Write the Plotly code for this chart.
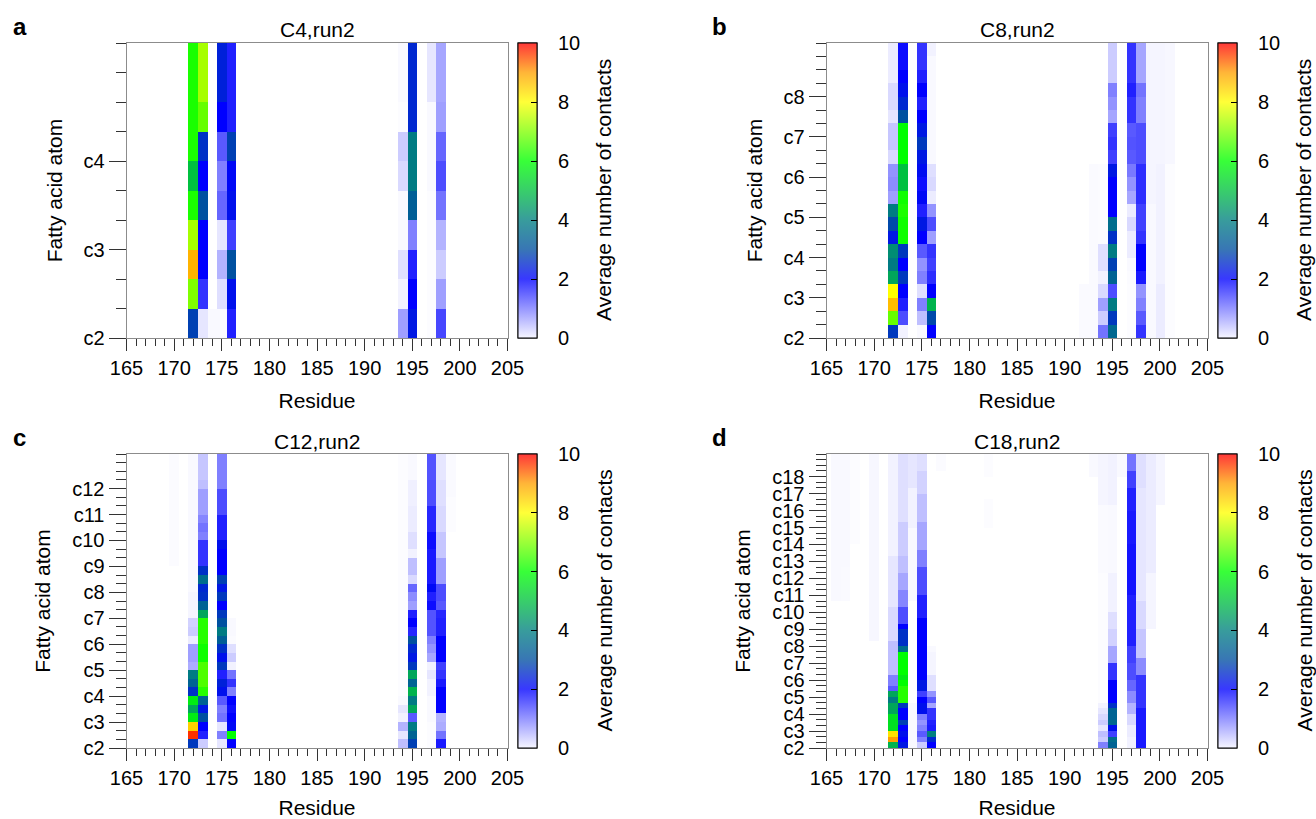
import plotly.graph_objects as go

W, H = 1316, 819
FONT = "Liberation Sans, Arial, Helvetica, sans-serif"

residues = list(range(165, 206))
residue_ticks = [165, 170, 175, 180, 185, 190, 195, 200, 205]
cbar_ticks = [0, 2, 4, 6, 8, 10]
cbar_dash_ticks = [2, 4, 6, 8]

# ---------------- panel a : C4 (10 atom rows, values listed top -> bottom) ----
c4_rows = 10
c4_labels = ["c2", "c3", "c4"]
c4_label_rows = [0, 3, 6]
c4_172 = [6.2, 6.2, 6.2, 6.2, 5.0, 6.2, 7.3, 8.8, 7.0, 2.8]
c4_173 = [7.3, 7.3, 6.8, 2.6, 2.0, 3.0, 2.0, 2.0, 1.6, 0.2]
c4_174 = [0, 0, 0, 0, 0, 0, 0, 0, 0, 0.05]
c4_175 = [2.4, 2.4, 2.0, 1.3, 1.0, 1.2, 0.2, 0.6, 0.25, 0.05]
c4_176 = [1.75, 1.75, 1.75, 2.8, 2.1, 2.2, 1.5, 3.0, 2.2, 1.75]
c4_194 = [0.05, 0.05, 0.02, 0.4, 0.3, 0.05, 0.05, 0.25, 0.1, 0.75]
c4_195 = [2.5, 2.5, 2.5, 3.9, 3.9, 3.3, 1.0, 1.75, 2.0, 2.3]
c4_197 = [0.2, 0.2, 0.05, 0.05, 0.05, 0.02, 0.02, 0.02, 0.02, 0.02]
c4_198 = [0.7, 0.7, 0.75, 1.2, 1.4, 1.1, 0.6, 0.4, 0.75, 1.45]

# ---------------- panel b : C8 (22 atom rows) ----------------------------------
c8_rows = 22
c8_labels = ["c2", "c3", "c4", "c5", "c6", "c7", "c8"]
c8_label_rows = [0, 3, 6, 9, 12, 15, 18]
c8_172 = [0.15, 0.15, 0.15, 0.3, 0.3, 0.2, 0.45, 0.45, 0.3, 0.85, 0.9, 0.75,
          3.9, 2.9, 2.3, 4.2, 3.9, 4.6, 8.0, 8.7, 6.8, 2.7]
c8_173 = [1.9, 1.9, 2.0, 2.2, 2.5, 3.0, 6.0, 6.0, 6.0, 5.0, 5.0, 6.1,
          6.2, 6.1, 6.1, 2.7, 2.0, 2.7, 2.0, 1.75, 1.4, 0.1]
c8_175 = [1.6, 1.6, 1.75, 2.0, 1.75, 2.0, 2.3, 2.7, 2.3, 2.15, 1.9, 2.1,
          1.75, 2.3, 2.0, 1.3, 0.85, 1.0, 0.25, 1.0, 0.5, 0.05]
c8_176 = [0.1, 0.05, 0.05, 0.05, 0.05, 0.05, 0.05, 0.05, 0.05, 0.25, 0.3, 0.15,
          0.85, 1.4, 0.75, 1.6, 1.5, 1.65, 2.0, 4.8, 2.9, 2.0]
c8_192 = [0, 0, 0, 0, 0, 0, 0, 0, 0, 0, 0, 0,
          0, 0, 0, 0, 0, 0, 0.04, 0.04, 0.04, 0.04]
c8_193 = [0, 0, 0, 0, 0, 0, 0, 0, 0, 0.04, 0.04, 0.04,
          0.04, 0.04, 0.04, 0.04, 0.04, 0.04, 0.04, 0.04, 0.04, 0.04]
c8_194 = [0, 0, 0, 0, 0, 0, 0, 0, 0, 0.03, 0.03, 0.03,
          0.03, 0.03, 0.03, 0.25, 0.25, 0.1, 0.3, 0.75, 0.4, 1.1]
c8_195 = [0.4, 0.4, 0.4, 1.0, 0.85, 0.7, 1.5, 1.6, 1.5, 2.3, 2.0, 2.0,
          2.0, 3.6, 2.6, 3.9, 2.8, 3.4, 1.4, 3.9, 2.7, 3.5]
c8_197 = [1.6, 1.6, 1.6, 1.75, 1.6, 1.6, 1.3, 1.35, 1.3, 1.05, 0.85, 0.7,
          0.15, 0.3, 0.15, 0.15, 0.05, 0.03, 0.02, 0.02, 0.02, 0.02]
c8_198 = [0.7, 0.7, 0.7, 1.1, 1.0, 1.0, 1.4, 1.4, 1.4, 1.65, 1.65, 1.65,
          1.5, 1.5, 1.6, 2.0, 2.0, 1.8, 0.85, 1.0, 1.3, 1.6]
c8_199 = [0.08, 0.08, 0.08, 0.08, 0.08, 0.08, 0.08, 0.08, 0.08, 0.08, 0.08, 0.08,
          0.05, 0.05, 0.05, 0.05, 0.05, 0.05, 0.05, 0.05, 0.05, 0.05]
c8_200 = [0.08, 0.08, 0.08, 0.08, 0.08, 0.08, 0.08, 0.08, 0.08, 0.1, 0.1, 0.1,
          0.1, 0.1, 0.1, 0.1, 0.1, 0.1, 0.15, 0.15, 0.15, 0.15]
c8_201 = [0.06, 0.06, 0.06, 0.06, 0.06, 0.06, 0.06, 0.06, 0.06, 0.02, 0.02, 0.02,
          0.02, 0.02, 0.02, 0.02, 0.02, 0.02, 0.02, 0.02, 0.02, 0.02]

# ---------------- panel c : C12 (34 atom rows) ---------------------------------
c12_rows = 34
c12_labels = ["c2", "c3", "c4", "c5", "c6", "c7", "c8", "c9", "c10", "c11", "c12"]
c12_label_rows = [0, 3, 6, 9, 12, 15, 18, 21, 24, 27, 30]
c12_170 = [0.03, 0.03, 0.03, 0.03, 0.03, 0.03, 0.03, 0.03, 0.03, 0.03,
           0.03, 0.03, 0.03, 0, 0, 0, 0, 0, 0, 0,
           0, 0, 0, 0, 0, 0, 0, 0, 0, 0,
           0, 0, 0, 0]
c12_172 = [0.05, 0.05, 0.05, 0.05, 0.05, 0.05, 0.05, 0.05, 0.05, 0.05,
           0.05, 0.05, 0.05, 0.05, 0.05, 0.05, 0.08, 0.08, 0.08, 0.35,
           0.4, 0.15, 0.75, 0.75, 0.65, 3.9, 3.4, 2.6, 5.7, 4.6,
           5.7, 8.5, 9.7, 2.7]
c12_173 = [0.45, 0.45, 0.45, 0.5, 0.75, 0.75, 0.75, 0.95, 1.1, 1.0,
           1.6, 1.6, 1.6, 2.6, 3.6, 2.5, 2.6, 3.4, 4.6, 6.3,
           6.3, 6.3, 6.1, 6.1, 6.6, 6.6, 6.6, 6.3, 3.4, 2.3,
           3.0, 2.0, 1.75, 0.4]
c12_175 = [1.0, 1.0, 1.0, 1.0, 1.4, 1.4, 1.4, 1.75, 1.75, 1.75,
           2.2, 2.0, 2.0, 2.0, 2.8, 2.3, 2.7, 2.0, 2.7, 3.0,
           3.9, 3.3, 2.6, 2.2, 2.7, 1.75, 2.4, 2.2, 1.3, 1.0,
           1.1, 0.2, 1.0, 0.2]
c12_176 = [0, 0, 0, 0, 0, 0, 0, 0, 0, 0,
           0, 0, 0, 0, 0, 0, 0, 0, 0, 0.05,
           0.05, 0.03, 0.25, 0.4, 0.1, 1.1, 1.6, 1.0, 2.0, 1.9,
           2.0, 2.1, 6.0, 2.0]
c12_194 = [0.02, 0.02, 0.02, 0.02, 0.02, 0.02, 0.02, 0.02, 0.02, 0.02,
           0.02, 0.02, 0.02, 0.02, 0.02, 0.02, 0.02, 0.02, 0.02, 0.02,
           0.02, 0.02, 0.02, 0.02, 0.02, 0.02, 0.02, 0.02, 0.05, 0.2,
           0.1, 0.6, 0.2, 0.5]
c12_195 = [0.05, 0.05, 0.05, 0.12, 0.12, 0.12, 0.15, 0.15, 0.15, 0.25,
           0.25, 0.1, 0.5, 0.5, 0.3, 1.2, 0.9, 0.75, 1.75, 2.0,
           1.7, 3.0, 2.5, 2.3, 2.7, 4.6, 3.4, 4.8, 3.9, 4.6,
           1.3, 3.9, 3.4, 2.8]
c12_197 = [1.35, 1.35, 1.35, 1.4, 1.4, 1.4, 1.7, 1.7, 1.7, 1.9,
           1.9, 1.8, 1.8, 1.8, 1.8, 2.1, 1.75, 1.9, 1.35, 1.35,
           1.35, 1.0, 0.85, 0.7, 0.1, 0.2, 0.1, 0.1, 0.05, 0.05,
           0.05, 0.02, 0.02, 0.02]
c12_198 = [0.2, 0.2, 0.2, 0.25, 0.25, 0.25, 0.3, 0.3, 0.3, 0.45,
           0.45, 0.45, 0.75, 0.75, 0.75, 1.4, 1.4, 1.3, 1.7, 1.75,
           1.75, 2.0, 2.0, 2.0, 1.5, 1.6, 1.8, 2.0, 2.0, 2.0,
           0.6, 0.65, 1.1, 1.8]
c12_199 = [0.04, 0.04, 0.04, 0.04, 0.04, 0.02, 0.02, 0.02, 0.02, 0,
           0, 0, 0, 0, 0, 0, 0, 0, 0, 0,
           0, 0, 0, 0, 0, 0, 0, 0, 0, 0,
           0, 0, 0, 0]

# ---------------- panel d : C18 (52 atom rows) ---------------------------------
c18_rows = 52
c18_labels = ["c2", "c3", "c4", "c5", "c6", "c7", "c8", "c9", "c10", "c11",
              "c12", "c13", "c14", "c15", "c16", "c17", "c18"]
c18_label_rows = [0, 3, 6, 9, 12, 15, 18, 21, 24, 27, 30, 33, 36, 39, 42, 45, 48]
c18_166 = [0.05, 0.05, 0.05, 0.05, 0.05, 0.05, 0.05, 0.05, 0.05, 0.05,
           0.05, 0.05, 0.05, 0.05, 0.05, 0.05, 0.05, 0.05, 0.05, 0.05,
           0.05, 0.05, 0.05, 0.05, 0.05, 0.05, 0, 0, 0, 0,
           0, 0, 0, 0, 0, 0, 0, 0, 0, 0,
           0, 0, 0, 0, 0, 0, 0, 0, 0, 0,
           0, 0]
c18_167 = [0.05, 0.05, 0.05, 0.05, 0.05, 0.05, 0.05, 0.05, 0.05, 0.05,
           0.05, 0.05, 0.05, 0.05, 0.05, 0.05, 0.05, 0.05, 0.05, 0.05,
           0.04, 0.04, 0.04, 0.04, 0.04, 0.04, 0, 0, 0, 0,
           0, 0, 0, 0, 0, 0, 0, 0, 0, 0,
           0, 0, 0, 0, 0, 0, 0, 0, 0, 0,
           0, 0]
c18_168 = [0.02, 0.02, 0.02, 0.02, 0.02, 0.02, 0.02, 0.02, 0.02, 0.02,
           0.02, 0.02, 0.02, 0.02, 0.02, 0.02, 0, 0, 0, 0,
           0, 0, 0, 0, 0, 0, 0, 0, 0, 0,
           0, 0, 0, 0, 0, 0, 0, 0, 0, 0,
           0, 0, 0, 0, 0, 0, 0, 0, 0, 0,
           0, 0]
c18_170 = [0.06, 0.06, 0.06, 0.06, 0.06, 0.06, 0.06, 0.06, 0.06, 0.06,
           0.06, 0.06, 0.06, 0.06, 0.06, 0.06, 0.06, 0.06, 0.06, 0.06,
           0.06, 0.06, 0.06, 0.06, 0.06, 0.06, 0.06, 0.06, 0.06, 0.06,
           0.06, 0.06, 0.06, 0, 0, 0, 0, 0, 0, 0,
           0, 0, 0, 0, 0, 0, 0, 0, 0, 0,
           0, 0]
c18_172 = [0.1, 0.1, 0.1, 0.1, 0.1, 0.1, 0.1, 0.1, 0.1, 0.1,
           0.1, 0.1, 0.1, 0.1, 0.1, 0.1, 0.1, 0.1, 0.2, 0.2,
           0.2, 0.2, 0.2, 0.2, 0.2, 0.2, 0.2, 0.3, 0.3, 0.3,
           0.3, 0.3, 0.3, 0.5, 0.5, 0.5, 0.5, 0.5, 0.5, 1.0,
           1.0, 1.3, 4.6, 3.9, 4.6, 4.6, 5.5, 5.5, 5.5, 8.3,
           9.0, 4.8]
c18_173 = [0.25, 0.25, 0.25, 0.25, 0.25, 0.25, 0.25, 0.25, 0.25, 0.25,
           0.25, 0.25, 0.4, 0.4, 0.4, 0.4, 0.4, 0.4, 0.5, 0.5,
           0.5, 0.7, 0.7, 0.7, 0.95, 0.95, 0.95, 1.4, 1.4, 1.4,
           2.0, 2.6, 2.6, 2.6, 3.6, 6.0, 6.0, 6.0, 6.0, 5.7,
           6.0, 6.3, 6.3, 6.3, 2.7, 2.0, 2.0, 2.8, 2.0, 2.2,
           2.0, 2.3]
c18_174 = [0.2, 0.2, 0.2, 0.2, 0.2, 0.2, 0.1, 0.1, 0.1, 0.1,
           0.1, 0.1, 0.1, 0.05, 0.05, 0.05, 0.05, 0.05, 0.05, 0.05,
           0.05, 0.05, 0.05, 0.05, 0.05, 0.05, 0, 0, 0, 0,
           0, 0, 0, 0, 0, 0, 0, 0, 0, 0,
           0, 0, 0, 0, 0.05, 0.05, 0.05, 0.05, 0.05, 0.05,
           0.05, 0.05]
c18_175 = [0.25, 0.25, 0.25, 0.35, 0.35, 0.35, 0.35, 0.5, 0.5, 0.5,
           0.5, 0.5, 0.7, 0.7, 0.7, 0.7, 0.7, 1.0, 1.0, 1.0,
           1.4, 1.4, 1.4, 1.4, 1.4, 1.75, 1.75, 1.75, 1.75, 2.0,
           2.0, 2.0, 2.0, 2.0, 2.0, 2.0, 2.0, 2.0, 2.0, 2.0,
           2.3, 2.3, 1.5, 2.0, 2.2, 2.2, 1.0, 0.85, 1.0, 1.3,
           1.0, 0.4]
c18_176 = [0, 0, 0, 0, 0, 0, 0, 0, 0, 0,
           0, 0, 0, 0, 0, 0, 0, 0, 0, 0,
           0, 0, 0, 0, 0, 0, 0, 0, 0, 0,
           0, 0, 0, 0, 0.05, 0.08, 0.08, 0.08, 0.08, 0.25,
           0.25, 0.25, 0.85, 1.3, 0.7, 1.6, 1.6, 1.75, 1.8, 4.0,
           2.5, 2.0]
c18_177 = [0.03, 0.03, 0.03, 0, 0, 0, 0, 0, 0, 0,
           0, 0, 0, 0, 0, 0, 0, 0, 0, 0,
           0, 0, 0, 0, 0, 0, 0, 0, 0, 0,
           0, 0, 0, 0, 0, 0, 0, 0, 0, 0,
           0, 0, 0, 0, 0, 0, 0, 0, 0, 0,
           0, 0]
c18_182 = [0.02, 0.02, 0.02, 0.02, 0, 0, 0, 0, 0.02, 0.02,
           0.02, 0.02, 0.02, 0, 0, 0, 0, 0, 0, 0,
           0, 0, 0, 0, 0, 0, 0, 0, 0, 0,
           0, 0, 0, 0, 0, 0, 0, 0, 0, 0,
           0, 0, 0, 0, 0, 0, 0, 0, 0, 0,
           0, 0]
c18_193 = [0.05, 0.05, 0.05, 0.05, 0, 0, 0, 0, 0, 0,
           0, 0, 0, 0, 0, 0, 0, 0, 0, 0,
           0, 0, 0, 0, 0, 0, 0, 0, 0, 0,
           0, 0, 0, 0, 0, 0, 0, 0, 0, 0,
           0, 0, 0, 0, 0, 0, 0, 0, 0, 0,
           0, 0]
c18_194 = [0.08, 0.08, 0.08, 0.08, 0.08, 0.08, 0.08, 0.08, 0.08, 0.04,
           0.04, 0.04, 0.04, 0.04, 0.04, 0.04, 0.04, 0.04, 0.04, 0.04,
           0.04, 0.02, 0.02, 0.02, 0.02, 0.02, 0.02, 0.02, 0.02, 0.02,
           0.02, 0.02, 0.02, 0.02, 0.02, 0.02, 0.02, 0.02, 0.02, 0.02,
           0.02, 0.02, 0.02, 0.02, 0.1, 0.2, 0.3, 0.4, 0.2, 0.5,
           0.4, 1.0]
c18_195 = [0.1, 0.1, 0.1, 0.1, 0.1, 0.1, 0.1, 0.1, 0.1, 0.05,
           0.05, 0.05, 0.05, 0.05, 0.05, 0.05, 0.05, 0.05, 0.05, 0.05,
           0.05, 0.1, 0.1, 0.1, 0.1, 0.1, 0.1, 0.1, 0.25, 0.25,
           0.25, 0.35, 0.35, 0.35, 0.7, 0.7, 0.7, 1.6, 1.6, 1.6,
           2.0, 2.0, 2.0, 2.0, 2.6, 3.4, 3.4, 3.5, 2.2, 1.5,
           3.6, 3.4]
c18_196 = [0.05, 0.05, 0.05, 0.05, 0, 0, 0, 0, 0, 0,
           0, 0, 0, 0, 0, 0, 0, 0, 0, 0,
           0, 0, 0, 0, 0, 0, 0, 0, 0, 0,
           0, 0, 0, 0, 0, 0, 0, 0, 0, 0,
           0, 0, 0, 0, 0, 0, 0, 0, 0, 0,
           0, 0]
c18_197 = [1.1, 1.1, 1.1, 1.5, 1.5, 1.5, 1.75, 1.75, 1.75, 1.75,
           1.8, 1.8, 1.8, 1.8, 1.8, 1.8, 1.85, 1.85, 1.85, 1.85,
           1.85, 1.85, 1.85, 1.85, 1.85, 1.75, 1.75, 1.75, 1.75, 1.75,
           1.75, 1.75, 1.75, 1.75, 1.5, 1.5, 1.5, 1.4, 1.4, 1.4,
           1.2, 1.2, 0.9, 0.9, 0.6, 0.6, 0.3, 0.3, 0.15, 0.15,
           0.1, 0.1]
c18_198 = [0.25, 0.25, 0.25, 0.25, 0.25, 0.25, 0.2, 0.2, 0.2, 0.2,
           0.2, 0.2, 0.2, 0.2, 0.2, 0.2, 0.2, 0.2, 0.2, 0.2,
           0.2, 0.2, 0.2, 0.2, 0.2, 0.2, 0.3, 0.3, 0.3, 0.3,
           0.3, 0.45, 0.45, 0.45, 0.45, 0.45, 0.9, 0.9, 0.9, 1.6,
           1.6, 1.6, 1.6, 1.6, 1.6, 1.8, 1.8, 1.8, 1.8, 1.8,
           1.8, 1.8]
c18_199 = [0.15, 0.15, 0.15, 0.15, 0.15, 0.15, 0.15, 0.15, 0.15, 0.15,
           0.15, 0.15, 0.15, 0.15, 0.15, 0.15, 0.15, 0.15, 0.15, 0.15,
           0.15, 0.08, 0.08, 0.08, 0.08, 0.08, 0.08, 0.08, 0.08, 0.08,
           0.08, 0, 0, 0, 0, 0, 0, 0, 0, 0,
           0, 0, 0, 0, 0, 0, 0, 0, 0, 0,
           0, 0]
c18_200 = [0.08, 0.08, 0.08, 0.08, 0.08, 0.08, 0.08, 0.08, 0.08, 0,
           0, 0, 0, 0, 0, 0, 0, 0, 0, 0,
           0, 0, 0, 0, 0, 0, 0, 0, 0, 0,
           0, 0, 0, 0, 0, 0, 0, 0, 0, 0,
           0, 0, 0, 0, 0, 0, 0, 0, 0, 0,
           0, 0]

# heat-map colours and the paler rendering of the same scale used in the colour bar
colorscale = [
    [0.0, "#ffffff"], [0.2, "#0000ff"], [0.3, "#0050a0"], [0.4, "#008080"],
    [0.5, "#00c040"], [0.6, "#00ff00"], [0.7, "#80ff00"], [0.8, "#ffff00"],
    [0.9, "#ffa000"], [1.0, "#ff0000"],
]


def paler(hexcol, keep=0.78):
    r, g, b = (int(hexcol[i:i + 2], 16) for i in (1, 3, 5))
    f = lambda c: int(round(c * keep + 255 * (1 - keep)))
    return "#%02x%02x%02x" % (f(r), f(g), f(b))


bar_colorscale = [[s, paler(c)] for s, c in colorscale]
bar_colorscale[0][1] = "#f6f6ff"


def build_z(n_rows, columns):
    z = [[0.0] * len(residues) for _ in range(n_rows)]
    for res, vals in columns.items():
        assert len(vals) == n_rows, (res, len(vals), n_rows)
        j = residues.index(res)
        for k, v in enumerate(vals):
            z[n_rows - 1 - k][j] = v
    return z


panels = [
    dict(letter="a", title="C4,run2", rows=c4_rows, labels=c4_labels,
         label_rows=c4_label_rows,
         cols={172: c4_172, 173: c4_173, 174: c4_174, 175: c4_175, 176: c4_176,
               194: c4_194, 195: c4_195, 197: c4_197, 198: c4_198},
         px=(126.5, 507.5), py=(43, 338)),
    dict(letter="b", title="C8,run2", rows=c8_rows, labels=c8_labels,
         label_rows=c8_label_rows,
         cols={172: c8_172, 173: c8_173, 175: c8_175, 176: c8_176, 192: c8_192,
               193: c8_193, 194: c8_194, 195: c8_195, 197: c8_197, 198: c8_198,
               199: c8_199, 200: c8_200, 201: c8_201},
         px=(826.5, 1207.5), py=(43, 338)),
    dict(letter="c", title="C12,run2", rows=c12_rows, labels=c12_labels,
         label_rows=c12_label_rows,
         cols={170: c12_170, 172: c12_172, 173: c12_173, 175: c12_175,
               176: c12_176, 194: c12_194, 195: c12_195, 197: c12_197,
               198: c12_198, 199: c12_199},
         px=(126.5, 507.5), py=(454, 748)),
    dict(letter="d", title="C18,run2", rows=c18_rows, labels=c18_labels,
         label_rows=c18_label_rows,
         cols={166: c18_166, 167: c18_167, 168: c18_168, 170: c18_170,
               172: c18_172, 173: c18_173, 174: c18_174, 175: c18_175,
               176: c18_176, 177: c18_177, 182: c18_182, 193: c18_193,
               194: c18_194, 195: c18_195, 196: c18_196, 197: c18_197,
               198: c18_198, 199: c18_199, 200: c18_200},
         px=(826.5, 1207.5), py=(454, 748)),
]

fig = go.Figure()
annotations = []
layout_axes = {}
TICK_COLOR = "#333333"
LINE_COLOR = "#8c8c8c"
FT = 20   # tick labels
FS = 21   # titles

for i, p in enumerate(panels, start=1):
    n = p["rows"]
    z = build_z(n, p["cols"])
    yc = [r + 0.5 for r in range(n)]
    x0, x1 = p["px"][0] / W, p["px"][1] / W
    y0, y1 = 1 - p["py"][1] / H, 1 - p["py"][0] / H
    suffix = "" if i == 1 else str(i)
    cb_common = dict(
        x=(p["px"][1] + 10.5) / W, xanchor="left", xpad=0, ypad=0,
        y=(y0 + y1) / 2, yanchor="middle", len=(y1 - y0), lenmode="fraction",
        thickness=19, thicknessmode="pixels",
        outlinecolor="black", outlinewidth=1,
    )
    # visible heat map (its colour bar only supplies the tick labels)
    fig.add_trace(go.Heatmap(
        x=residues, y=yc, z=z, zmin=0, zmax=10, colorscale=colorscale,
        xaxis="x" + suffix, yaxis="y" + suffix, hoverinfo="skip",
        colorbar=dict(
            **cb_common,
            tickvals=cbar_ticks, ticks="outside", ticklen=17,
            tickcolor="rgba(0,0,0,0)",
            tickfont=dict(family=FONT, size=FT, color="black"),
        ),
    ))
    # transparent copy whose colour bar draws the pale bar with inner dashes
    fig.add_trace(go.Heatmap(
        x=residues, y=yc, z=z, zmin=0, zmax=10, colorscale=bar_colorscale,
        opacity=0, xaxis="x" + suffix, yaxis="y" + suffix, hoverinfo="skip",
        colorbar=dict(
            **cb_common,
            tickvals=cbar_dash_ticks, ticks="inside", ticklen=6,
            tickcolor="black", tickwidth=1, showticklabels=False,
        ),
    ))
    layout_axes["xaxis" + suffix] = dict(
        domain=[x0, x1], anchor="y" + suffix, range=[165, 205],
        tickmode="array", tickvals=residue_ticks,
        ticks="outside", ticklen=12, tickwidth=1, tickcolor=TICK_COLOR,
        minor=dict(tickmode="linear", tick0=165, dtick=1, ticks="outside",
                   ticklen=7, tickwidth=1, tickcolor=TICK_COLOR),
        showline=True, linecolor=LINE_COLOR, linewidth=1, mirror=True,
        showgrid=False, zeroline=False, automargin=False,
        tickfont=dict(family=FONT, size=FT, color="black"),
        title=dict(text="Residue", font=dict(family=FONT, size=FS, color="black")),
    )
    layout_axes["yaxis" + suffix] = dict(
        domain=[y0, y1], anchor="x" + suffix, range=[0, n],
        tickmode="array", tickvals=p["label_rows"], ticktext=p["labels"],
        ticks="outside", ticklen=17, tickwidth=1, tickcolor=TICK_COLOR,
        minor=dict(tickmode="linear", tick0=0, dtick=1, ticks="outside",
                   ticklen=10, tickwidth=1, tickcolor=TICK_COLOR),
        showline=True, linecolor=LINE_COLOR, linewidth=1, mirror=True,
        showgrid=False, zeroline=False, automargin=False,
        tickfont=dict(family=FONT, size=FT, color="black"),
        title=dict(text="Fatty acid atom", font=dict(family=FONT, size=FS, color="black")),
    )
    annotations.append(dict(
        text=p["title"], xref="paper", yref="paper", x=(x0 + x1) / 2,
        y=1 - (p["py"][0] - 13) / H, xanchor="center", yanchor="middle",
        showarrow=False, font=dict(family=FONT, size=FS, color="black")))
    annotations.append(dict(
        text="<b>%s</b>" % p["letter"], xref="paper", yref="paper",
        x=(p["px"][0] - 107) / W, y=1 - (p["py"][0] - 17) / H,
        xanchor="center", yanchor="middle", showarrow=False,
        font=dict(family=FONT, size=24, color="black")))
    annotations.append(dict(
        text="Average number of contacts", xref="paper", yref="paper",
        x=(p["px"][1] + 96) / W, y=(y0 + y1) / 2, textangle=-90,
        xanchor="center", yanchor="middle", showarrow=False,
        font=dict(family=FONT, size=FS, color="black")))

fig.update_layout(
    width=W, height=H, autosize=False,
    margin=dict(l=0, r=0, t=0, b=0, pad=0),
    paper_bgcolor="white", plot_bgcolor="white",
    font=dict(family=FONT, size=FT, color="black"),
    annotations=annotations, showlegend=False,
    **layout_axes,
)

fig.write_html("out.html")
